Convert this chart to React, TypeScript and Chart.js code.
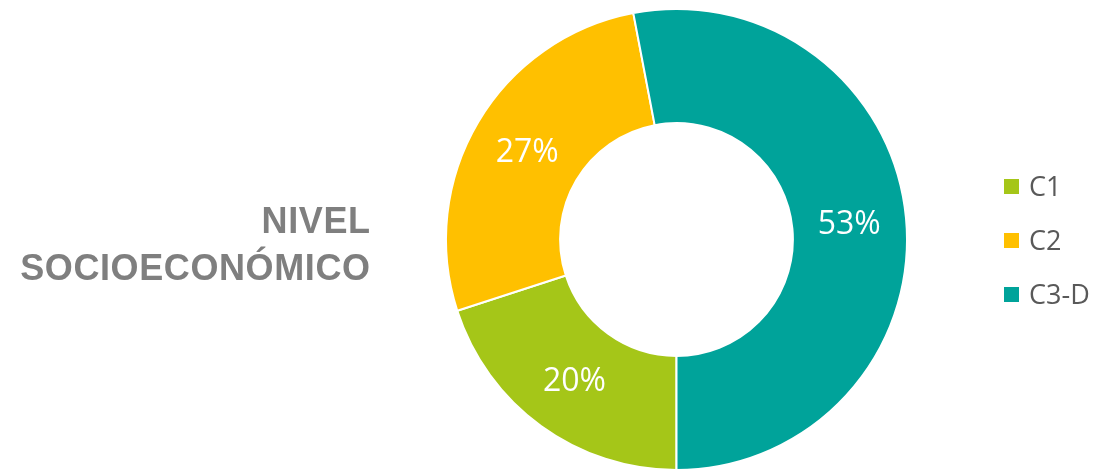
import React, { useEffect, useRef } from "react";
import { Chart, registerables } from "chart.js";

Chart.register(...registerables);

const categories = ["C1", "C2", "C3-D"];
const values = [20, 27, 53];
const valueLabels = ["20%", "27%", "53%"];
const colors = ["#A5C618", "#FFC000", "#00A39A"];
const titleLines = ["NIVEL", "SOCIOECONÓMICO"];

const labelPlugin = {
  id: "sliceLabels",
  afterDatasetsDraw(chart: any) {
    const ctx = chart.ctx;
    const meta = chart.getDatasetMeta(0);
    ctx.save();
    ctx.fillStyle = "#FFFFFF";
    ctx.font = '32px "Open Sans"';
    ctx.textAlign = "center";
    ctx.textBaseline = "middle";
    meta.data.forEach((arc: any, i: number) => {
      const p = arc.tooltipPosition();
      ctx.fillText(valueLabels[i], p.x, p.y + 2);
    });
    ctx.restore();
  },
};

export default function App() {
  const ref = useRef<HTMLCanvasElement | null>(null);

  useEffect(() => {
    if (!ref.current) return;
    const chart = new Chart(ref.current, {
      type: "doughnut",
      data: {
        labels: categories,
        datasets: [
          {
            data: values,
            backgroundColor: colors,
            borderColor: "#FFFFFF",
            borderWidth: 2,
          },
        ],
      },
      options: {
        responsive: false,
        animation: false,
        rotation: 180,
        cutout: "50.5%",
        layout: { padding: { left: 445, right: 186, top: 8, bottom: 9 } },
        plugins: {
          legend: { display: false },
          tooltip: { enabled: false },
        },
      },
      plugins: [labelPlugin],
    });
    return () => chart.destroy();
  }, []);

  return (
    <div
      style={{
        position: "fixed",
        left: 0,
        top: 0,
        width: 1094,
        height: 469,
        background: "#FFFFFF",
        overflow: "hidden",
      }}
    >
      <canvas ref={ref} width={1094} height={480} style={{ position: "absolute", left: 0, top: 0 }} />
      <div
        style={{
          position: "absolute",
          left: 0,
          top: 197,
          width: 370,
          textAlign: "right",
          fontFamily: '"Liberation Sans", Arial, sans-serif',
          fontWeight: 700,
          fontSize: 36,
          letterSpacing: "0.6px",
          lineHeight: "47px",
          color: "#7F7F7F",
        }}
      >
        {titleLines.map((t) => (
          <div key={t} style={{ marginRight: -0.6 }}>{t}</div>
        ))}
      </div>
      <div style={{ position: "absolute", left: 1004, top: 159 }}>
        {categories.map((c, i) => (
          <div
            key={c}
            style={{ display: "flex", alignItems: "center", height: 54 }}
          >
            <div style={{ width: 15, height: 15, background: colors[i] }} />
            <div
              style={{
                marginLeft: 10,
                fontFamily: '"Open Sans", sans-serif',
                fontSize: 27,
                color: "#595959",
                lineHeight: "54px",
              }}
            >
              {c}
            </div>
          </div>
        ))}
      </div>
    </div>
  );
}
